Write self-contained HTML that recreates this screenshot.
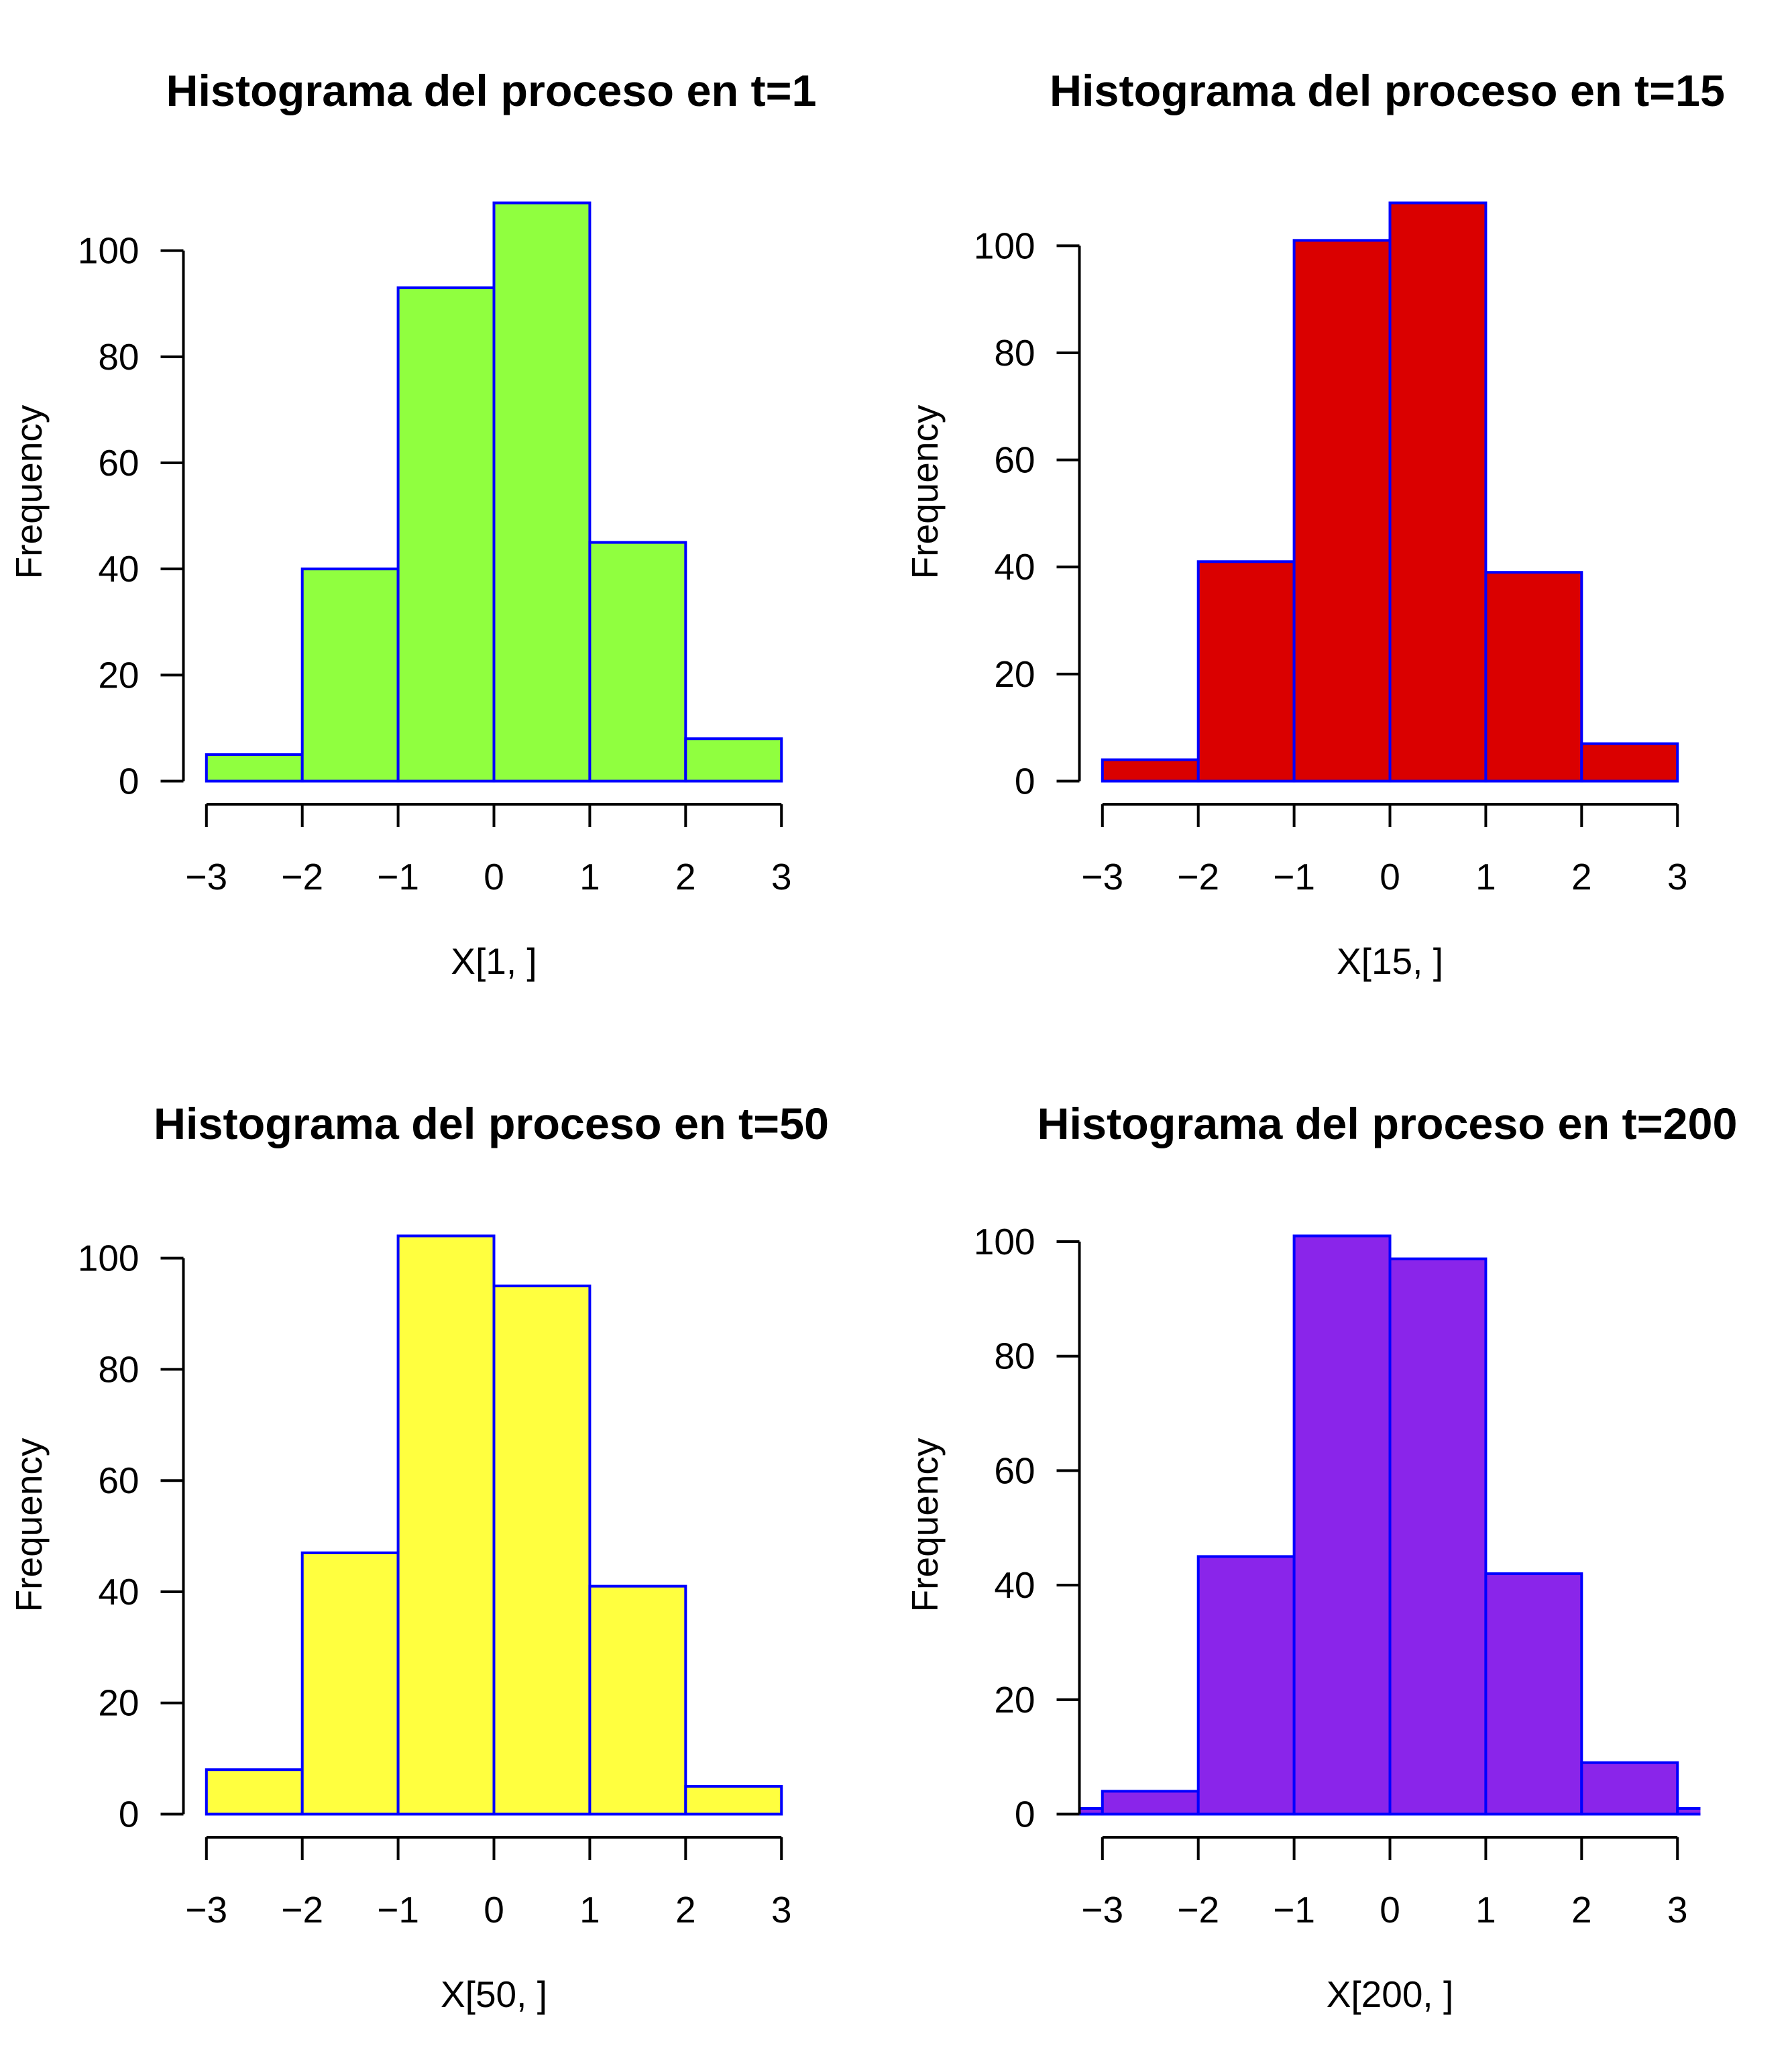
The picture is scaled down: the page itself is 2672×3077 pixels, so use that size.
<!DOCTYPE html>
<html><head><meta charset="utf-8"><style>
html,body{margin:0;padding:0;background:#fff;}
svg{display:block;font-family:"Liberation Sans",Arial,sans-serif;}
</style></head><body>
<svg id="chart" width="2672" height="3077" viewBox="0 0 2672 3077" xmlns="http://www.w3.org/2000/svg"></svg>
<script>
const titles = ["Histograma del proceso en t=1","Histograma del proceso en t=15","Histograma del proceso en t=50","Histograma del proceso en t=200"];
const xLabels = ["X[1, ]","X[15, ]","X[50, ]","X[200, ]"];
const fills = ["#90FF3F","#DA0000","#FFFF3F","#8A25EA"];
const breaks1 = [-3,-2,-1,0,1,2,3];
const counts1 = [5,40,93,109,45,8];
const breaks2 = [-3,-2,-1,0,1,2,3];
const counts2 = [4,41,101,108,39,7];
const breaks3 = [-3,-2,-1,0,1,2,3];
const counts3 = [8,47,104,95,41,5];
const breaks4 = [-4,-3,-2,-1,0,1,2,3,4];
const counts4 = [1,4,45,101,97,42,9,1];
const xTicks = [-3,-2,-1,0,1,2,3];
const yTicks = [0,20,40,60,80,100];

const NS = "http://www.w3.org/2000/svg";
const svg = document.getElementById('chart');
function mk(tag, attrs, parent){ const e=document.createElementNS(NS,tag); for(const k in attrs) e.setAttribute(k,attrs[k]); (parent||svg).appendChild(e); return e; }

const panels = [
  {ox:0, oy:0, breaks:breaks1, counts:counts1},
  {ox:1336, oy:0, breaks:breaks2, counts:counts2},
  {ox:0, oy:1540, breaks:breaks3, counts:counts3},
  {ox:1336, oy:1540, breaks:breaks4, counts:counts4}
];
const PW = 926, PH = 931;
let titleFactor = null;

panels.forEach((p, i) => {
  const L = 273.5 + p.ox, T = 268 + p.oy, B = T + PH;
  const maxC = Math.max(...p.counts);
  const ymin = -0.04*maxC, ymax = 1.04*maxC;
  const xs = v => L + (v - (-3.24)) / 6.48 * PW;
  const ys = v => B - (v - ymin) / (ymax - ymin) * PH;
  const g = mk('g', {});
  
  
  const cp = mk('clipPath', {id:'clip'+i}, g);
  mk('rect', {x:L, y:T, width:PW, height:PH}, cp);
  const bars = mk('g', {'clip-path':'url(#clip'+i+')'}, g);
  
  
  p.counts.forEach((c, j) => {
    const x0 = xs(p.breaks[j]), x1 = xs(p.breaks[j+1]);
    const r = mk('rect', {x:x0, y:ys(c), width:x1-x0, height:ys(0)-ys(c), fill:fills[i], stroke:'#0000FF', 'stroke-width':4}, bars);
    
    
  });
  const xa = mk('g', {stroke:'#000', 'stroke-width':4, fill:'none'}, g);
  
  
  const xAxisY = B;
  mk('line', {x1:xs(xTicks[0]), x2:xs(xTicks[xTicks.length-1]), y1:xAxisY, y2:xAxisY}, xa);
  xTicks.forEach(t => {
    mk('line', {x1:xs(t), x2:xs(t), y1:xAxisY, y2:xAxisY+34}, xa);
    const tx = mk('text', {x:xs(t), y:1326+p.oy, 'text-anchor':'middle', 'font-size':55, fill:'#000'}, g);
    tx.textContent = (t<0 ? '\u2212'+(-t) : String(t));
    
    
  });
  const ya = mk('g', {stroke:'#000', 'stroke-width':4, fill:'none'}, g);
  
  
  mk('line', {x1:L, x2:L, y1:ys(0), y2:ys(100)}, ya);
  yTicks.forEach(t => {
    mk('line', {x1:L-34, x2:L, y1:ys(t), y2:ys(t)}, ya);
    const ty = mk('text', {x:L-66, y:ys(t)+19, 'text-anchor':'end', 'font-size':55, fill:'#000'}, g);
    ty.textContent = String(t);
    
    
  });
  const yl = mk('text', {x:0, y:0, 'text-anchor':'middle', 'font-size':55, fill:'#000', transform:'translate('+(62+p.ox)+','+(T+PH/2)+') rotate(-90)'}, g);
  yl.textContent = 'Frequency';
  
  
  const xl = mk('text', {x:L+PW/2, y:1452+p.oy, 'text-anchor':'middle', 'font-size':55, fill:'#000'}, g);
  xl.textContent = xLabels[i];
  
  
  const tt = mk('text', {x:L+PW/2-4, y:158+p.oy, 'text-anchor':'middle', 'font-size':66, 'font-weight':'bold', fill:'#000'}, g);
  tt.textContent = titles[i];
  
  
  const nat = tt.getComputedTextLength();
  if (titleFactor === null) titleFactor = nat > 0 ? 970/nat : 1;
  if (nat > 0) { tt.setAttribute('textLength', nat*titleFactor); tt.setAttribute('lengthAdjust','spacingAndGlyphs'); }
});
</script>
</body></html>
